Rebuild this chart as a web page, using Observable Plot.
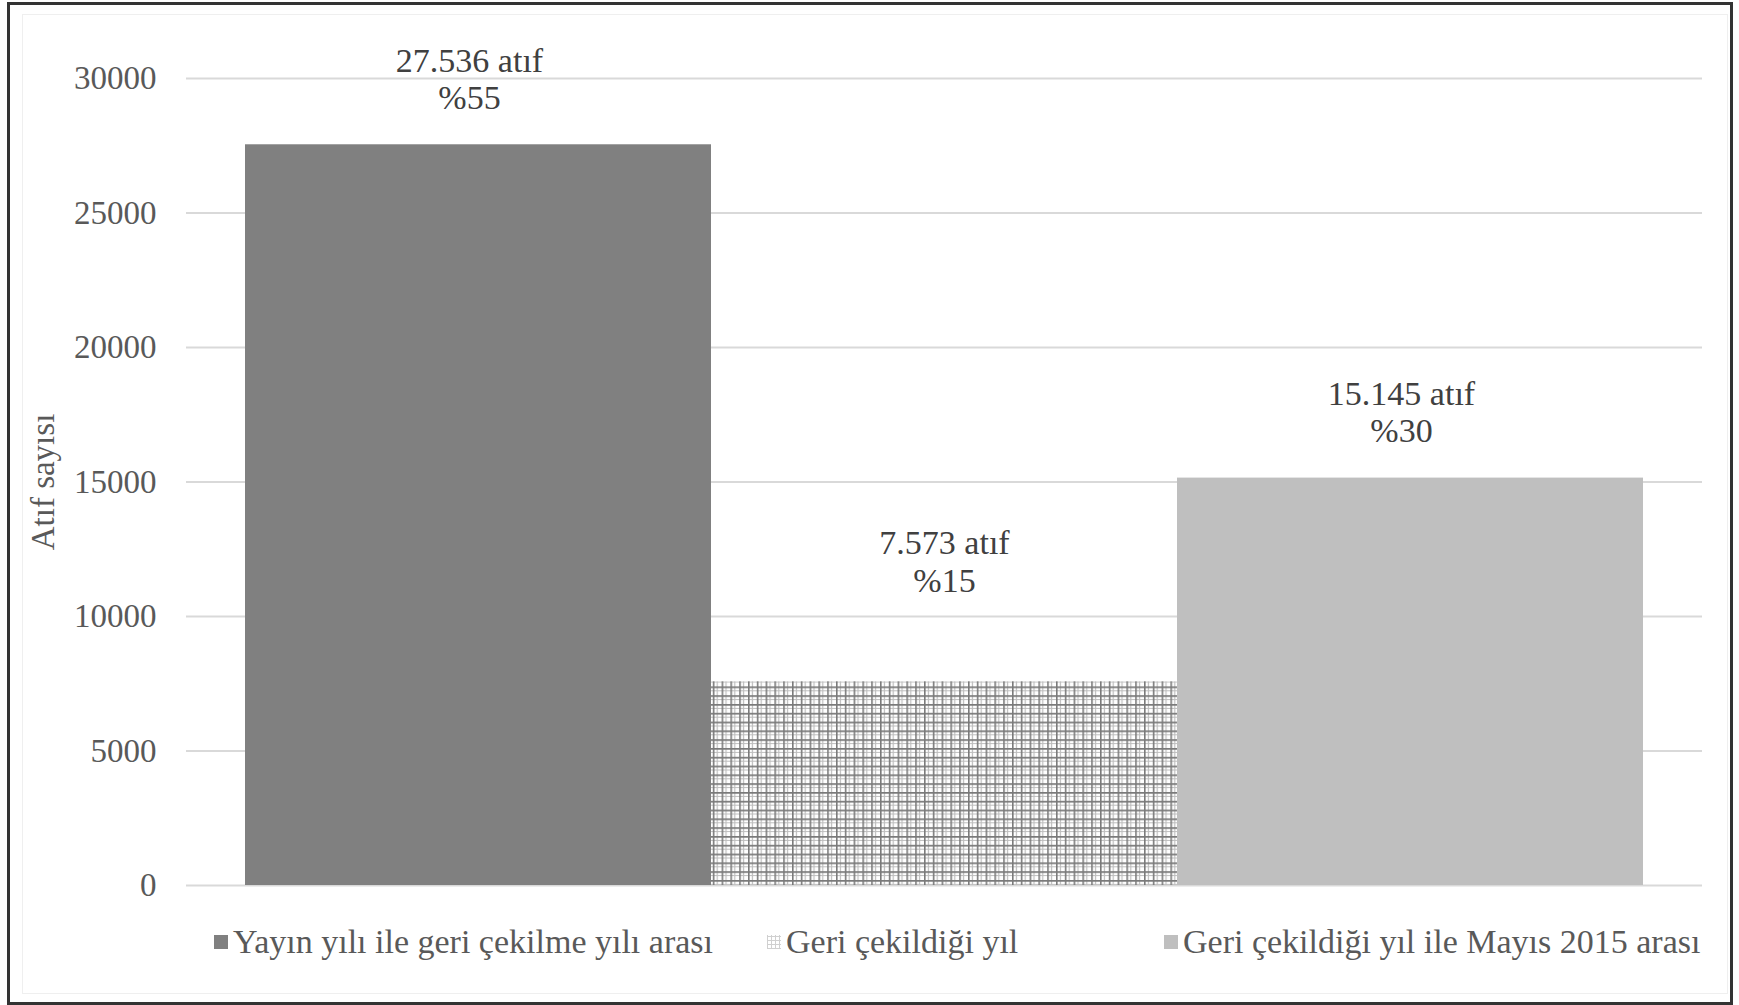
<!DOCTYPE html>
<html>
<head>
<meta charset="utf-8">
<script src="https://cdn.jsdelivr.net/npm/d3@7"></script>
<script src="https://cdn.jsdelivr.net/npm/@observablehq/plot@0.6"></script>
<style>
  html, body { margin: 0; padding: 0; background: #fff; }
  body { width: 1739px; height: 1005px; position: relative; overflow: hidden;
         font-family: "Liberation Serif", "Times New Roman", serif; }
  #frame { position: absolute; left: 7px; top: 2px; width: 1726px; height: 1003px;
           border: 3px solid #333; box-sizing: border-box; pointer-events: none; }
  #inner { position: absolute; left: 22px; top: 14px; width: 1706px; height: 980px;
           border: 1px solid #efefef; box-sizing: border-box; pointer-events: none; }
  #chart { position: absolute; left: 0; top: 0; }
  #legend { position: absolute; left: 0; top: 922px; width: 1739px; height: 40px;
            font-size: 34px; color: #595959; line-height: 40px; }
  .item { position: absolute; top: 0; white-space: nowrap; display: flex; align-items: center; }
  .sw { width: 14px; height: 14px; margin-right: 5px; display: inline-block; }
</style>
</head>
<body>
<div id="chart"></div>
<div id="legend"></div>
<div id="inner"></div>
<div id="frame"></div>
<script>
const categories = ["Yayın yılı ile geri çekilme yılı arası", "Geri çekildiği yıl", "Geri çekildiği yıl ile Mayıs 2015 arası"];
const values = [27536, 7573, 15145];
const countLabels = ["27.536 atıf", "7.573 atıf", "15.145 atıf"];
const percentLabels = ["%55", "%15", "%30"];
const yTicks = [0, 5000, 10000, 15000, 20000, 25000, 30000];
const yTitle = "Atıf sayısı";

const colors = ["#808080", "url(#hatch)", "#bfbfbf"];
const legendLeft = [214, 767, 1164];

const data = categories.map((c, i) => ({
  category: c, value: values[i], label: countLabels[i] + "\n" + percentLabels[i], i
}));

const font = '"Liberation Serif", "Times New Roman", serif';

const chart = Plot.plot({
  width: 1739,
  height: 905,
  marginLeft: 186,
  marginRight: 37,
  marginTop: 78,
  marginBottom: 20,
  style: { fontFamily: font, fontSize: "33px", background: "transparent", color: "#595959" },
  x: { domain: categories, paddingInner: 0, paddingOuter: 0.125, axis: null },
  y: { domain: [0, 30000] },
  color: { domain: categories, range: colors },
  marks: [
    Plot.gridY(yTicks, { stroke: "#d9d9d9", strokeOpacity: 1, strokeWidth: 2 }),
    Plot.axisY({ ticks: yTicks, tickSize: 0, tickPadding: 30, tickFormat: d3.format("d"),
                 label: yTitle, labelAnchor: "center", labelArrow: "none", labelOffset: 156,
                 fill: "#595959" }),
    Plot.barY(data, { x: "category", y: "value", fill: "category" }),
    Plot.text(data.filter(d => d.i !== 1), { x: "category", y: "value", text: "label",
      lineAnchor: "bottom", lineHeight: 1.08, dy: -36, dx: -9, fill: "#404040", fontSize: 34 }),
    Plot.text(data.filter(d => d.i === 1), { x: "category", y: "value", text: "label",
      lineAnchor: "bottom", lineHeight: 1.1, dy: -90, fill: "#404040", fontSize: 34 })
  ]
});

// hatch pattern definition for the middle bar
const svgSel = d3.select(chart);
const defs = svgSel.insert("defs", ":first-child");
const pat = defs.append("pattern").attr("id", "hatch").attr("patternUnits", "userSpaceOnUse")
  .attr("width", 8.8).attr("height", 8.8);
pat.append("rect").attr("width", 8.8).attr("height", 8.8).attr("fill", "#ffffff");
pat.append("path").attr("d", "M4.4,0V8.8M0,4.4H8.8").attr("stroke", "#bdbdbd").attr("stroke-width", 1.2);
pat.append("path").attr("d", "M0.8,0V8.8M0,0.8H8.8").attr("stroke", "#7a7a7a").attr("stroke-width", 1.6);

document.getElementById("chart").appendChild(chart);

// legend
const legend = d3.select("#legend");
categories.forEach((c, i) => {
  const item = legend.append("div").attr("class", "item").style("left", legendLeft[i] + "px");
  const sw = item.append("span").attr("class", "sw");
  if (i === 1) {
    sw.style("background",
      "repeating-linear-gradient(0deg, #d0d0d0 0 1px, transparent 1px 4px), repeating-linear-gradient(90deg, #d0d0d0 0 1px, #fff 1px 4px)");
  } else {
    sw.style("background", colors[i]);
  }
  item.append("span").text(c);
});
</script>
</body>
</html>
